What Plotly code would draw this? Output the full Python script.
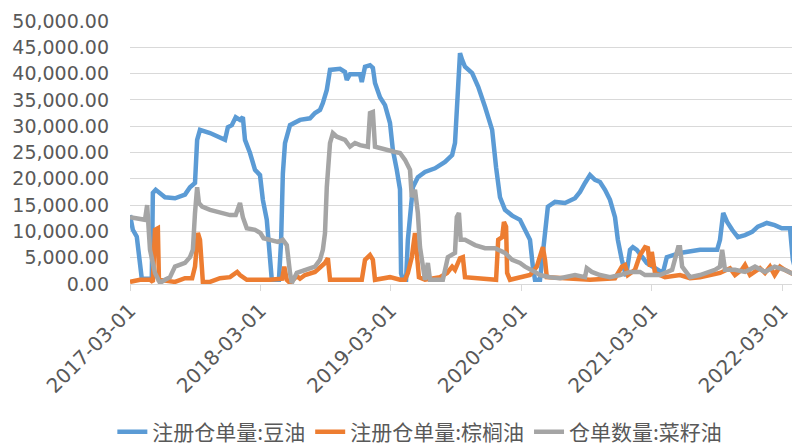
import plotly.graph_objects as go

# 注册仓单量:豆油
soy_dates = ["2017-03-01","2017-03-09","2017-03-20","2017-03-29","2017-04-03","2017-05-01","2017-05-04","2017-05-12",
 "2017-06-07","2017-07-05","2017-08-02","2017-08-16","2017-08-30","2017-09-05","2017-09-13","2017-10-11","2017-11-08",
 "2017-11-22","2017-11-30","2017-12-11","2017-12-22","2018-01-03","2018-01-11","2018-01-17","2018-01-31","2018-02-14",
 "2018-02-28","2018-03-08","2018-03-19","2018-03-28","2018-04-02","2018-04-22","2018-04-28","2018-05-03","2018-05-09",
 "2018-05-23","2018-06-20","2018-07-18","2018-08-01","2018-08-15","2018-08-23","2018-09-03","2018-09-12","2018-10-10",
 "2018-10-24","2018-10-29","2018-11-07","2018-12-05","2018-12-10","2018-12-19","2019-01-02","2019-01-10","2019-01-16",
 "2019-01-30","2019-02-13","2019-02-27","2019-03-07","2019-03-18","2019-03-27","2019-03-30","2019-04-04","2019-04-13",
 "2019-04-18","2019-05-02","2019-05-16","2019-06-05","2019-07-03","2019-07-31","2019-08-20","2019-08-28","2019-09-05",
 "2019-09-11","2019-09-17","2019-09-25","2019-10-15","2019-11-01","2019-11-20","2019-12-10","2019-12-21","2020-01-01",
 "2020-01-15","2020-02-04","2020-02-26","2020-03-25","2020-04-02","2020-04-08","2020-04-22","2020-05-06","2020-05-14",
 "2020-06-03","2020-07-01","2020-07-29","2020-08-12","2020-08-26","2020-09-09","2020-09-23","2020-10-07","2020-10-21",
 "2020-11-04","2020-11-18","2020-11-26","2020-12-07","2020-12-19","2020-12-30","2021-01-07","2021-01-18","2021-02-15",
 "2021-04-01","2021-04-12","2021-05-19","2021-07-14","2021-08-31","2021-09-08","2021-09-17","2021-09-28","2021-10-12",
 "2021-10-28","2021-11-17","2021-12-07","2021-12-23","2022-01-17","2022-02-08","2022-02-28","2022-03-23","2022-03-31",
 "2022-04-06"]
soy_values = [13100,10300,9000,2700,1000,1000,17300,17900,
 16500,16300,17000,18400,19200,27400,29300,28700,27700,
 27400,29800,30200,31700,31200,31700,27400,24900,21700,
 20700,16000,12200,4600,800,800,8000,21000,26800,
 30200,31200,31500,32500,33100,34400,36900,40700,40900,
 40300,38800,39900,39900,38400,41300,41600,41100,38200,
 35500,34000,30600,25500,21700,18000,2000,800,800,
 8400,18400,20300,21300,22000,23200,24500,26800,36900,
 43900,42600,41300,40100,37500,33700,29300,22200,16500,
 14100,13000,12200,8400,3300,800,800,10900,14700,
 15600,15400,16300,17500,19200,20700,19800,19400,17900,
 16000,12700,8400,4600,1500,6500,7000,6500,4000,
 2100,5100,5900,6500,6500,8400,13500,11800,10300,
 8900,9300,9900,10900,11600,11200,10600,10600,4600,
 3000]

# 注册仓单量:棕榈油
palm_dates = ["2017-03-01","2017-03-29","2017-04-26","2017-05-04","2017-05-10","2017-05-18","2017-05-21","2017-07-05",
 "2017-08-02","2017-08-22","2017-08-30","2017-09-07","2017-09-13","2017-09-21","2017-10-11","2017-11-08","2017-12-06",
 "2017-12-26","2018-01-03","2018-01-11","2018-01-22","2018-03-28","2018-05-01","2018-05-07","2018-05-14","2018-05-23",
 "2018-06-11","2018-06-20","2018-07-04","2018-08-01","2018-08-20","2018-08-29","2018-09-06","2018-09-12","2018-12-10",
 "2018-12-19","2019-01-02","2019-01-10","2019-01-16","2019-02-27","2019-03-27","2019-04-10","2019-04-18","2019-04-29",
 "2019-05-08","2019-05-13","2019-05-19","2019-06-05","2019-07-17","2019-08-06","2019-08-20","2019-08-28","2019-09-11",
 "2019-09-19","2019-09-25","2019-12-21","2019-12-27","2020-01-07","2020-01-12","2020-01-18","2020-01-21","2020-01-29",
 "2020-02-26","2020-03-25","2020-04-13","2020-04-22","2020-04-30","2020-05-06","2020-05-11","2020-07-01","2020-09-09",
 "2020-11-18","2020-12-07","2020-12-16","2020-12-24","2021-01-13","2021-01-27","2021-02-10","2021-02-18","2021-02-24",
 "2021-03-01","2021-03-10","2021-04-07","2021-05-19","2021-06-16","2021-07-14","2021-08-11","2021-09-08","2021-10-06",
 "2021-10-20","2021-11-08","2021-11-17","2021-12-01","2021-12-29","2022-01-12","2022-01-26","2022-02-08","2022-02-23",
 "2022-03-08","2022-03-23","2022-04-06"]
palm_values = [400,800,800,400,10300,10600,800,400,
 1100,1100,3300,9700,8400,400,400,1100,1300,
 2300,1700,1300,800,800,1000,3300,800,200,
 1500,1000,1700,2300,3300,4000,4900,800,800,
 4600,5500,4600,800,1300,800,800,2100,5100,
 9700,5100,1300,800,1300,2100,3300,2700,4900,
 5100,1300,800,8400,8900,11800,10900,2100,800,
 1300,1700,3300,5100,7000,4600,1300,1100,800,
 1100,3300,3600,1700,2700,5500,7000,6800,3300,
 6100,2100,1300,1700,1100,1300,1700,2100,3000,
 1700,2700,3600,1700,3000,2100,3300,1700,3300,
 2700,2100,1700]

# 仓单数量:菜籽油
rapeseed_dates = ["2017-03-01","2017-03-29","2017-04-12","2017-04-18","2017-04-21","2017-04-26","2017-05-10","2017-05-24",
 "2017-06-07","2017-06-21","2017-07-05","2017-07-19","2017-08-02","2017-08-16","2017-08-24","2017-08-30","2017-09-05",
 "2017-09-10","2017-09-19","2017-10-11","2017-11-08","2017-12-06","2017-12-22","2018-01-03","2018-01-11","2018-01-22",
 "2018-02-14","2018-03-01","2018-03-10","2018-03-28","2018-04-19","2018-05-03","2018-05-14","2018-05-23","2018-05-28",
 "2018-06-11","2018-07-04","2018-08-01","2018-08-15","2018-08-23","2018-08-29","2018-09-03","2018-09-12","2018-09-20",
 "2018-10-01","2018-10-24","2018-11-07","2018-11-21","2018-12-05","2018-12-27","2019-01-02","2019-01-10","2019-01-16",
 "2019-02-13","2019-03-13","2019-03-27","2019-04-10","2019-04-24","2019-04-29","2019-05-08","2019-05-16","2019-05-22",
 "2019-05-30","2019-06-05","2019-06-13","2019-06-19","2019-07-25","2019-08-08","2019-08-28","2019-09-02","2019-09-08",
 "2019-09-13","2019-09-25","2019-10-23","2019-11-20","2019-12-18","2020-01-15","2020-02-04","2020-02-26","2020-03-11",
 "2020-04-08","2020-04-22","2020-05-20","2020-06-17","2020-07-29","2020-08-26","2020-08-31","2020-09-14","2020-10-07",
 "2020-11-04","2020-12-02","2020-12-30","2021-01-27","2021-02-10","2021-03-24","2021-04-27","2021-05-14","2021-05-19",
 "2021-05-25","2021-06-16","2021-07-14","2021-08-25","2021-09-08","2021-09-14","2021-09-22","2021-10-20","2021-11-17",
 "2021-12-15","2022-01-12","2022-02-08","2022-03-08","2022-04-06"]
rapeseed_values = [12700,12500,12200,15000,12700,6500,2100,200,
 800,1300,3300,3600,4000,5100,6500,13500,18400,
 15400,14700,14100,13500,13100,13100,15400,12700,10600,
 10300,9700,8700,8400,8000,8400,7400,2100,200,
 2100,2700,3300,4600,6500,9700,18400,26800,28700,
 28000,27400,26100,26800,26400,26100,32500,32700,26100,
 25500,25100,24900,23600,21700,16500,17900,13500,7000,
 2700,800,4000,800,800,5100,5900,12700,13500,
 8400,8400,7400,6800,6800,5900,4600,4000,3300,
 2300,1700,1300,1100,1700,1300,3000,2300,1700,
 1300,1700,2300,2300,1700,1700,2700,7000,7000,
 3300,1300,1700,2700,3300,6500,2700,2700,2300,
 3300,2300,3300,2700,1700]

tick_dates = ["2017-03-01","2018-03-01","2019-03-01","2020-03-01","2021-03-01","2022-03-01"]
y_ticks = [0,5000,10000,15000,20000,25000,30000,35000,40000,45000,50000]

series = [
    ("注册仓单量:豆油", soy_dates, soy_values, "#5B9BD5"),
    ("注册仓单量:棕榈油", palm_dates, palm_values, "#ED7D31"),
    ("仓单数量:菜籽油", rapeseed_dates, rapeseed_values, "#A5A5A5"),
]

fig = go.Figure()
for name, xs, ys, color in series:
    fig.add_trace(go.Scatter(x=xs, y=ys, mode="lines", name=name,
                             line=dict(color=color, width=4.5)))

# page body has an 8px default margin, so the figure is sized 792x440
fig.update_layout(
    width=792, height=440,
    margin=dict(l=122, r=5, t=13, b=164, autoexpand=False),
    paper_bgcolor="white", plot_bgcolor="white",
    font=dict(family="DejaVu Sans", color="#595959", size=19),
    showlegend=True,
    legend=dict(orientation="h", xref="container", yref="container",
                x=0.52, xanchor="center", y=0.036, yanchor="middle",
                font=dict(family="Noto Sans CJK SC", size=21, color="#595959"),
                itemwidth=30, tracegroupgap=0),
)
fig.update_xaxes(
    type="date", range=["2017-03-01", "2022-04-06"], automargin=False,
    tickvals=tick_dates, ticktext=tick_dates, tickangle=-45,
    showgrid=False, showline=True, linecolor="#D9D9D9", linewidth=1,
    ticks="outside", ticklen=6, tickcolor="#D9D9D9",
    tickfont=dict(family="DejaVu Sans", size=20, color="#595959"),
    zeroline=False,
)
fig.update_yaxes(
    range=[0, 50000], tickvals=y_ticks, tickformat=",.2f", automargin=False,
    showgrid=True, gridcolor="#D9D9D9", gridwidth=1,
    showline=False, zeroline=False, ticks="", ticklabelstandoff=20,
    tickfont=dict(family="DejaVu Sans", size=19, color="#595959"),
)

fig.write_html("out.html")
